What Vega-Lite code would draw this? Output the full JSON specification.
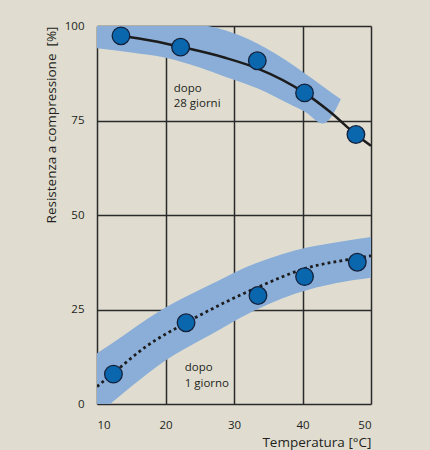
{
  "$schema": "https://vega.github.io/schema/vega-lite/v6.json",
  "autosize": {"type": "none"},
  "width": 274,
  "height": 378,
  "padding": {"left": 97, "top": 26, "right": 59, "bottom": 46},
  "background": "#e0ddd0",
  "config": {
    "view": {"stroke": null},
    "font": "Open Sans",
    "axis": {
      "grid": true,
      "gridColor": "#2a2a2a",
      "gridWidth": 1.5,
      "gridOpacity": 1,
      "ticks": false,
      "domain": false,
      "labelFont": "Open Sans",
      "labelFontSize": 11.5,
      "labelColor": "#231f20",
      "titleFont": "Open Sans",
      "titleFontSize": 13.5,
      "titleFontWeight": "normal",
      "titleColor": "#231f20"
    }
  },
  "datasets": {
    "band": [
      {"s": "28", "x": 10, "lo": 94.1, "hi": 103},
      {"s": "28", "x": 15, "lo": 93.0, "hi": 102.3},
      {"s": "28", "x": 20, "lo": 91.6, "hi": 101.5},
      {"s": "28", "x": 25, "lo": 89.0, "hi": 100.4},
      {"s": "28", "x": 28.7, "lo": 86.6, "hi": 98.9},
      {"s": "28", "x": 33.4, "lo": 83.5, "hi": 95.4},
      {"s": "28", "x": 38.6, "lo": 78.9, "hi": 89.7},
      {"s": "28", "x": 40.3, "lo": 77.4, "hi": 87.5},
      {"s": "28", "x": 43.0, "lo": 74.2, "hi": 84.0},
      {"s": "28", "x": 45.6, "lo": 80.6, "hi": 80.6},
      {"s": "1", "x": 10, "lo": -2.8, "hi": 13.4},
      {"s": "1", "x": 12, "lo": 0.1, "hi": 15.8},
      {"s": "1", "x": 15, "lo": 4.6, "hi": 19.6},
      {"s": "1", "x": 20, "lo": 11.5, "hi": 25.5},
      {"s": "1", "x": 25, "lo": 16.8, "hi": 30.2},
      {"s": "1", "x": 28, "lo": 19.8, "hi": 32.9},
      {"s": "1", "x": 31, "lo": 22.9, "hi": 35.6},
      {"s": "1", "x": 35, "lo": 26.4, "hi": 38.4},
      {"s": "1", "x": 39, "lo": 29.2, "hi": 40.7},
      {"s": "1", "x": 45, "lo": 32.0, "hi": 42.8},
      {"s": "1", "x": 50, "lo": 33.4, "hi": 44.2}
    ],
    "curve28": [
      {"x": 13.5, "y": 97.4},
      {"x": 18, "y": 96.1},
      {"x": 22.2, "y": 94.5},
      {"x": 28.7, "y": 91.6},
      {"x": 33.4, "y": 88.8},
      {"x": 40.3, "y": 82.3},
      {"x": 44, "y": 77.3},
      {"x": 47.8, "y": 71.3},
      {"x": 50, "y": 68.3}
    ],
    "curve1": [
      {"x": 10, "y": 4.6},
      {"x": 12.4, "y": 8.2},
      {"x": 17, "y": 15.0},
      {"x": 23, "y": 21.5},
      {"x": 28.7, "y": 26.9},
      {"x": 33.5, "y": 30.9},
      {"x": 40.3, "y": 35.8},
      {"x": 48, "y": 38.6},
      {"x": 50, "y": 39.2}
    ],
    "pts": [
      {"s": "28", "x": 13.5, "y": 97.4},
      {"s": "28", "x": 22.2, "y": 94.4},
      {"s": "28", "x": 33.4, "y": 90.8},
      {"s": "28", "x": 40.3, "y": 82.3},
      {"s": "28", "x": 47.8, "y": 71.3},
      {"s": "1", "x": 12.4, "y": 7.9},
      {"s": "1", "x": 23.0, "y": 21.5},
      {"s": "1", "x": 33.5, "y": 28.7},
      {"s": "1", "x": 40.3, "y": 33.7},
      {"s": "1", "x": 48.0, "y": 37.5}
    ],
    "labels": [
      {"x": 21.2, "y": 82.5, "t": "dopo"},
      {"x": 21.2, "y": 78.6, "t": "28 giorni"},
      {"x": 22.8, "y": 8.6, "t": "dopo"},
      {"x": 22.8, "y": 4.6, "t": "1 giorno"}
    ]
  },
  "encoding": {
    "x": {
      "field": "x", "type": "quantitative",
      "scale": {"domain": [10, 50], "nice": false, "zero": false},
      "axis": {
        "values": [10, 20, 30, 40, 50],
        "title": "Temperatura [°C]",
        "titleAnchor": "end",
        "labelPadding": 15,
        "titlePadding": 5
      }
    },
    "y": {
      "field": "y", "type": "quantitative",
      "scale": {"domain": [0, 100], "nice": false, "zero": false},
      "axis": {
        "values": [0, 25, 50, 75, 100],
        "title": "Resistenza a compressione\u00a0\u00a0[%]",
        "titleAnchor": "end",
        "labelPadding": 13,
        "titlePadding": 6
      }
    }
  },
  "layer": [
    {
      "data": {"name": "band"},
      "mark": {"type": "area", "color": "#8aaed8", "opacity": 1, "interpolate": "monotone", "clip": true},
      "encoding": {
        "y": {"field": "lo", "type": "quantitative"},
        "y2": {"field": "hi"},
        "detail": {"field": "s", "type": "nominal"}
      }
    },
    {
      "data": {"name": "curve28"},
      "mark": {"type": "line", "color": "#1c1c1c", "strokeWidth": 2.5, "interpolate": "monotone", "clip": true},
      "encoding": {}
    },
    {
      "data": {"name": "curve1"},
      "mark": {"type": "line", "color": "#1c1c1c", "strokeWidth": 2.8, "strokeDash": [2.8, 3.2], "interpolate": "monotone", "clip": true},
      "encoding": {}
    },
    {
      "data": {"name": "pts"},
      "mark": {"type": "point", "shape": "circle", "filled": true, "size": 310, "fill": "#0a66ad", "stroke": "#14213a", "strokeWidth": 1.3, "opacity": 1},
      "encoding": {"detail": {"field": "s", "type": "nominal"}}
    },
    {
      "data": {"name": "labels"},
      "mark": {"type": "text", "align": "left", "baseline": "alphabetic", "font": "Open Sans", "fontSize": 11.5, "color": "#231f20"},
      "encoding": {"text": {"field": "t", "type": "nominal"}}
    }
  ]
}
